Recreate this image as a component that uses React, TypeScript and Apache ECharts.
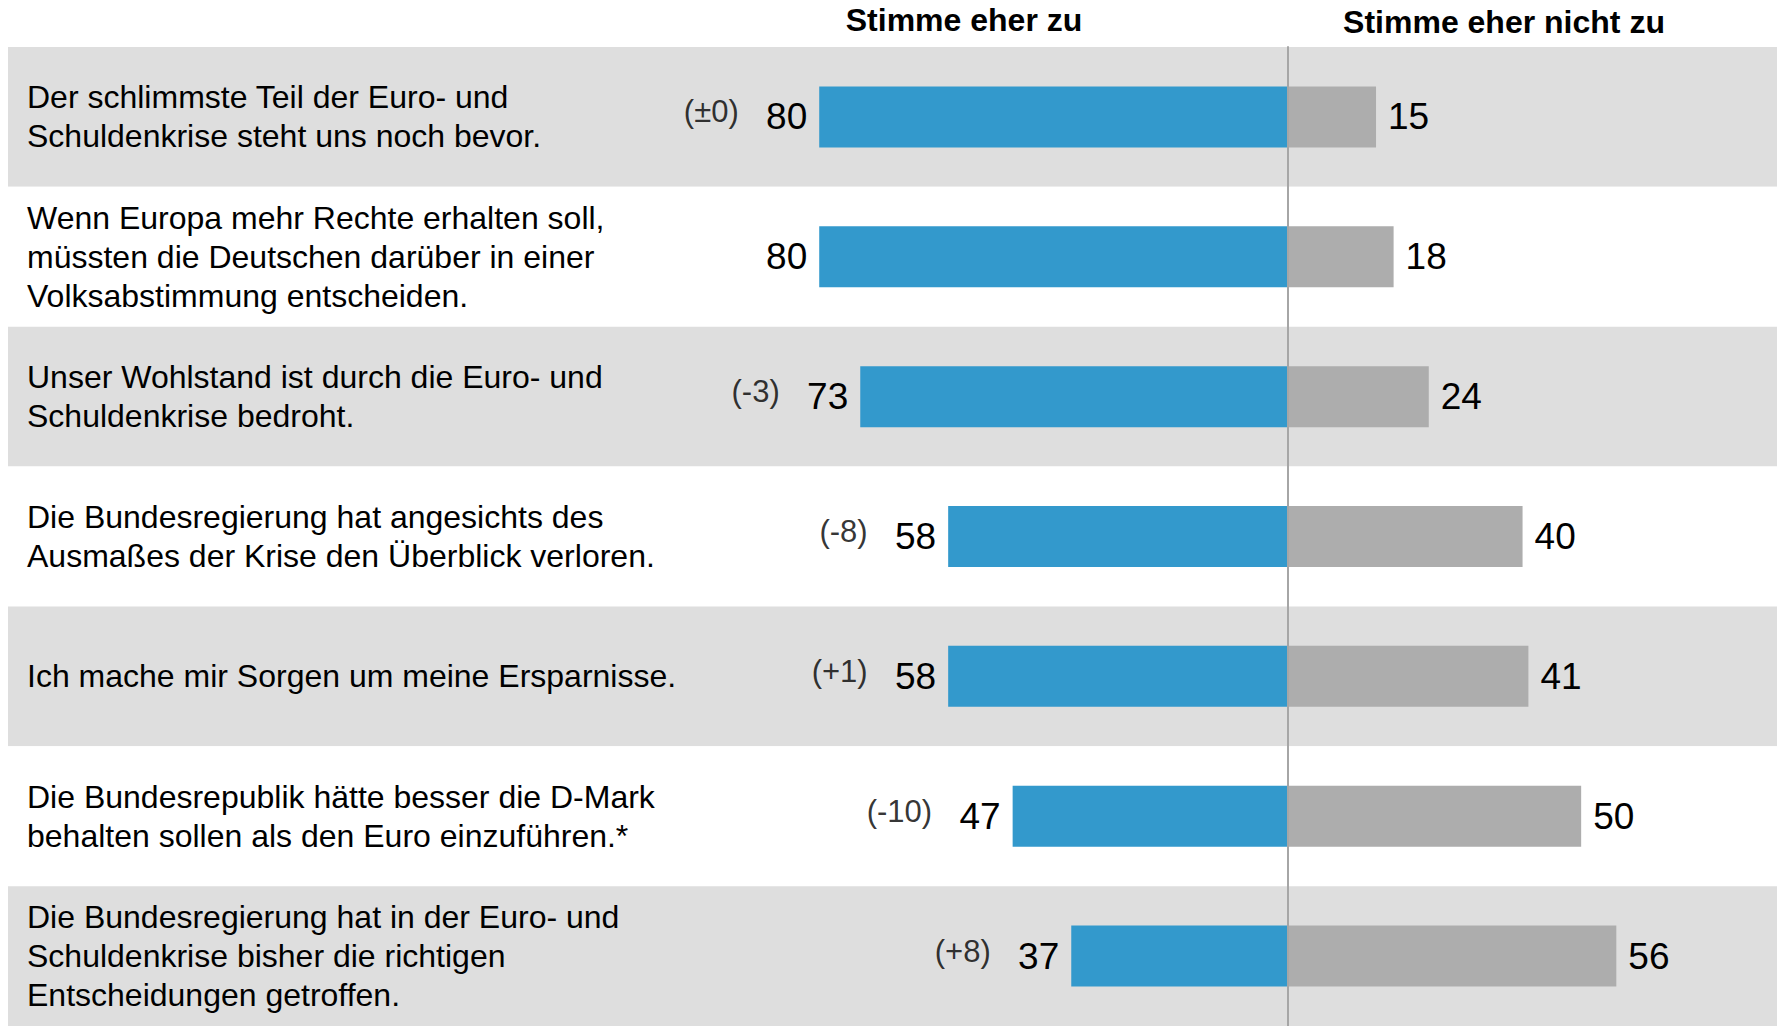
import React, { useEffect, useRef } from "react";
import * as echarts from "echarts";

const categories: string[] = [
  "Der schlimmste Teil der Euro- und\nSchuldenkrise steht uns noch bevor.",
  "Wenn Europa mehr Rechte erhalten soll,\nmüssten die Deutschen darüber in einer\nVolksabstimmung entscheiden.",
  "Unser Wohlstand ist durch die Euro- und\nSchuldenkrise bedroht.",
  "Die Bundesregierung hat angesichts des\nAusmaßes der Krise den Überblick verloren.",
  "Ich mache mir Sorgen um meine Ersparnisse.",
  "Die Bundesrepublik hätte besser die D-Mark\nbehalten sollen als den Euro einzuführen.*",
  "Die Bundesregierung hat in der Euro- und\nSchuldenkrise bisher die richtigen\nEntscheidungen getroffen.",
];
const agree: number[] = [80, 80, 73, 58, 58, 47, 37];
const disagree: number[] = [15, 18, 24, 40, 41, 50, 56];
const changes: (number | null)[] = [0, null, -3, -8, 1, -10, 8];
const headers: string[] = ["Stimme eher zu", "Stimme eher nicht zu"];

const FONT = "'Liberation Sans', Arial, Helvetica, sans-serif";

function fmtChange(c: number): string {
  if (c === 0) return "(±0)";
  return c > 0 ? `(+${c})` : `(-${Math.abs(c)})`;
}

export default function App() {
  const ref = useRef<HTMLDivElement>(null);
  useEffect(() => {
    if (!ref.current) return;
    const chart = echarts.init(ref.current, undefined, { renderer: "svg" });
    const option: any = {
      animation: false,
      backgroundColor: "#ffffff",
      grid: [
        { left: 702, right: 22, top: 47, bottom: 0 },
        { left: 8, right: 2, top: 47, bottom: 0 },
      ],
      xAxis: [
        { type: "value", gridIndex: 0, min: -100, max: 80, show: false },
        { type: "value", gridIndex: 1, min: 0, max: 1, show: false },
      ],
      yAxis: [
        {
          type: "category",
          gridIndex: 0,
          data: categories,
          inverse: true,
          axisLine: { show: true, onZero: true, lineStyle: { color: "#a6a6a6", width: 2 } },
          axisTick: { show: false },
          axisLabel: { show: false },
          splitLine: { show: false },
          z: 5,
        },
        {
          type: "category",
          gridIndex: 1,
          data: categories,
          inverse: true,
          axisLine: { show: false, onZero: false },
          axisTick: { show: false, interval: 0 },
          axisLabel: {
            show: true,
            inside: true,
            interval: 0,
            margin: 19,
            align: "left",
            fontSize: 32,
            lineHeight: 39,
            color: "#000000",
            fontFamily: FONT,
          },
          splitLine: { show: false },
          splitArea: { show: true, interval: 0, areaStyle: { color: ["#dedede", "#ffffff"] } },
        },
      ],
      series: [
        {
          name: headers[0],
          type: "bar",
          stack: "total",
          xAxisIndex: 0,
          yAxisIndex: 0,
          barWidth: 61,
          data: agree.map((v) => -v),
          itemStyle: { color: "#3399cc" },
          label: {
            show: true,
            position: "left",
            distance: 12,
            formatter: (p: any) => String(Math.abs(p.value)),
            fontSize: 37,
            color: "#000000",
            fontFamily: FONT,
          },
          z: 2,
        },
        {
          name: headers[1],
          type: "bar",
          stack: "total",
          xAxisIndex: 0,
          yAxisIndex: 0,
          barWidth: 61,
          data: disagree,
          itemStyle: { color: "#adadad" },
          label: {
            show: true,
            position: "right",
            distance: 12,
            fontSize: 37,
            color: "#000000",
            fontFamily: FONT,
          },
          z: 2,
        },
        {
          name: "Veränderung",
          type: "scatter",
          xAxisIndex: 0,
          yAxisIndex: 0,
          silent: true,
          symbolSize: 1,
          itemStyle: { color: "rgba(0,0,0,0)" },
          data: changes.map((c, i) => (c === null ? null : [-agree[i], categories[i]])),
          label: {
            show: true,
            position: "left",
            distance: 80,
            offset: [0, -5],
            formatter: (p: any) => {
              const c = changes[p.dataIndex];
              return c === null ? "" : fmtChange(c);
            },
            fontSize: 31,
            color: "#000000",
            fontFamily: FONT,
          },
          z: 3,
        },
      ],
      graphic: [
        {
          type: "text",
          x: 964,
          y: 20,
          style: {
            text: headers[0],
            fill: "#000000",
            font: `bold 32px ${FONT}`,
            textAlign: "center",
            textVerticalAlign: "middle",
          },
        },
        {
          type: "text",
          x: 1504,
          y: 22,
          style: {
            text: headers[1],
            fill: "#000000",
            font: `bold 32px ${FONT}`,
            textAlign: "center",
            textVerticalAlign: "middle",
          },
        },
      ],
    };
    chart.setOption(option);
    return () => chart.dispose();
  }, []);
  return (
    <div
      ref={ref}
      style={{ position: "fixed", left: 0, top: 0, width: 1779, height: 1026, background: "#fff" }}
    />
  );
}
